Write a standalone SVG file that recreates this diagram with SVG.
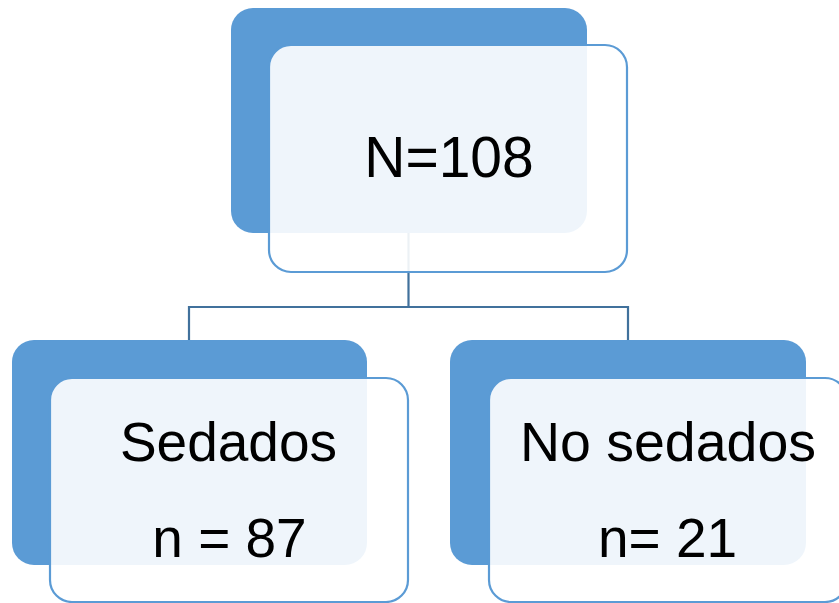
<svg xmlns="http://www.w3.org/2000/svg" width="839" height="603" viewBox="0 0 839 603">
<style>
.back{fill:#5B9BD5}
.front{fill:#FFFFFF;fill-opacity:0.9;stroke:#5B9BD5;stroke-width:2.2}
.conn{fill:none;stroke:#41719C;stroke-width:2.2}
.t{font-family:"Liberation Sans",Arial,sans-serif;fill:#000000;text-anchor:middle}
</style>
<rect width="839" height="603" fill="#FFFFFF"/>
<g id="back-shapes">
<rect class="back" x="231" y="8" width="356" height="225" rx="22"/>
<rect class="back" x="12" y="340" width="355" height="225" rx="22"/>
<rect class="back" x="450" y="340" width="356" height="225" rx="22"/>
</g>
<g id="connectors">
<path class="conn" d="M408.5,233 V307 M189,340 V307 H628 V340"/>
</g>
<g id="node-total">
<rect class="front" x="269" y="45" width="358" height="227" rx="22"/>
<text class="t" x="449" y="177" font-size="57">N=108</text>
</g>
<g id="node-sedados">
<rect class="front" x="50" y="378" width="358" height="224" rx="22"/>
<text class="t" x="228.5" y="461" font-size="55">Sedados</text>
<text class="t" x="229.5" y="557" font-size="55">n = 87</text>
</g>
<g id="node-no-sedados">
<rect class="front" x="489" y="378" width="358" height="224" rx="22"/>
<text class="t" x="668" y="461" font-size="55.5">No sedados</text>
<text class="t" x="667.5" y="557" font-size="55">n= 21</text>
</g>
</svg>
